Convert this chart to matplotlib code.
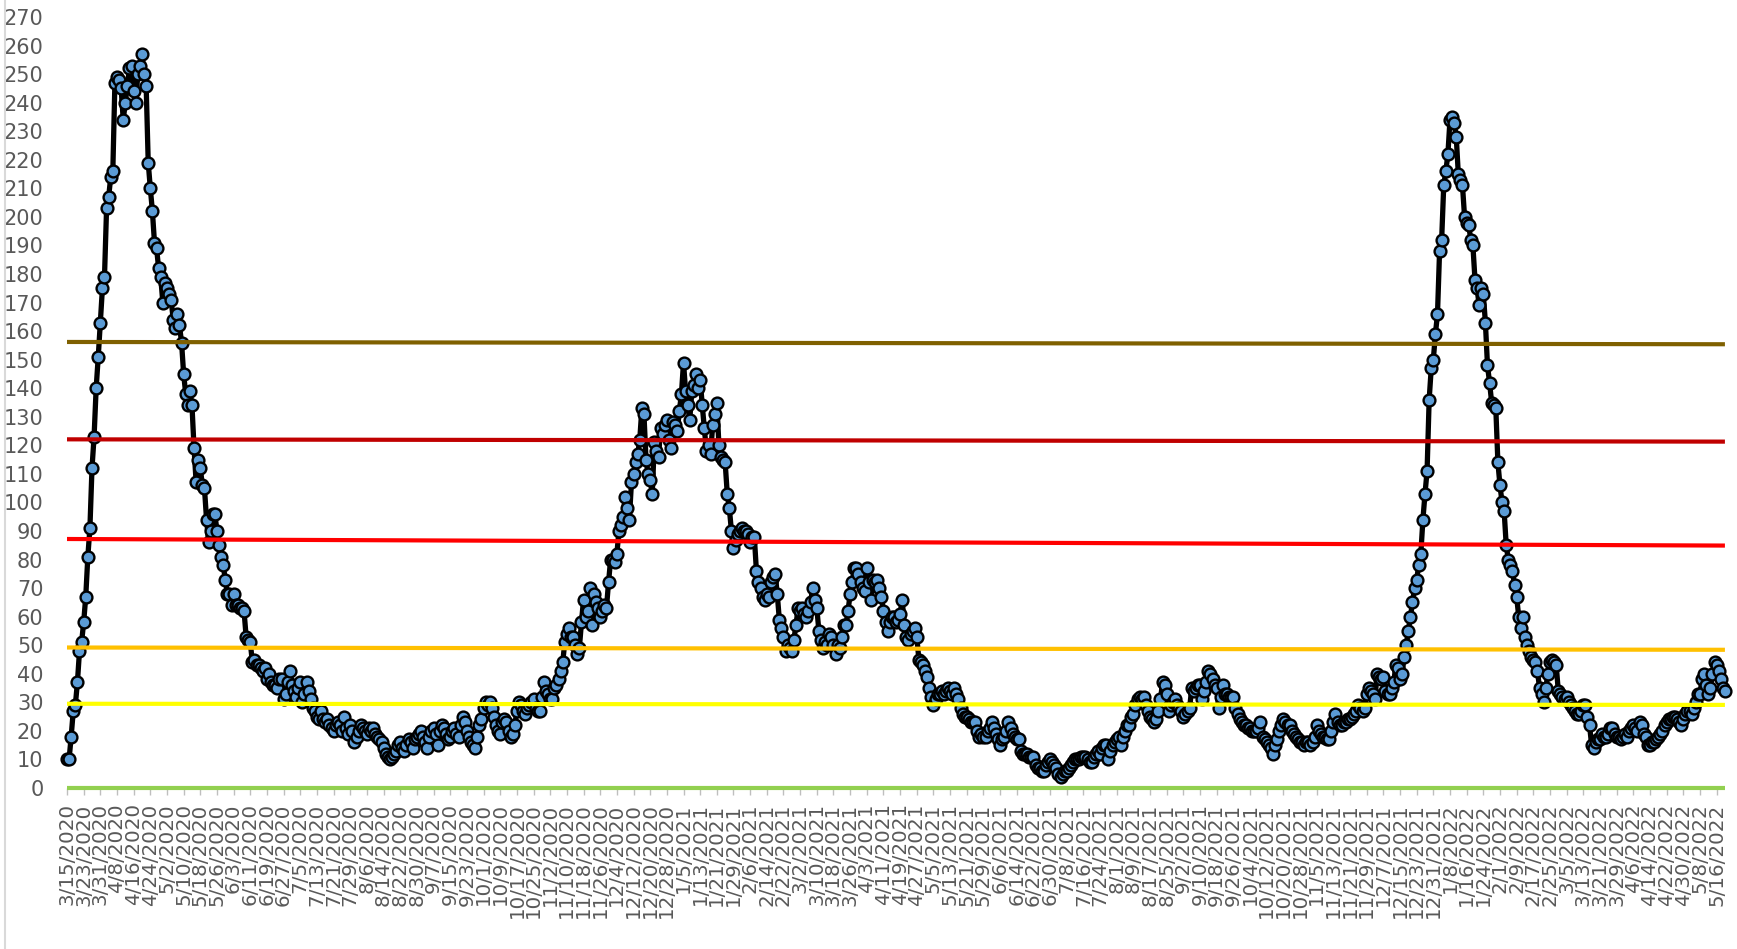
import matplotlib
matplotlib.use("Agg")
import matplotlib.pyplot as plt
import numpy as np
import pandas as pd
from matplotlib.lines import Line2D

# Valores diarios, desde 3/15/2020 (un valor por dia)
ola1_subida = [10, 10, 18, 27, 29, 37, 48, 51, 58, 67, 81, 91, 112, 123, 140,
               151, 163, 175, 179, 203, 207, 214, 216]
ola1_pico = [247, 249, 248, 245, 234, 240, 246, 252, 253, 244, 240, 250, 253,
             257, 250, 246]
ola1_bajada = [219, 210, 202, 191, 189, 182, 179, 170, 177, 175,
               173, 171, 164, 161, 166, 162, 156, 145, 138, 134,
               139, 134, 119, 107, 115, 112, 106, 105, 94, 86,
               90, 96, 96, 90, 85, 81, 78, 73, 68, 68,
               64, 68, 64, 64, 63, 63, 62, 53, 52, 51,
               44, 45, 43, 43, 42, 41, 42, 38]
verano2020 = [40, 37, 36, 36, 35, 38, 38, 31, 33, 37,
              41, 36, 34, 32, 35, 37, 30, 33, 37, 34,
              31, 28, 27, 25, 24, 27, 24, 23, 24, 22,
              21, 20, 22, 23]
otono2020 = [22, 20, 25, 21, 19, 22, 20,
             16, 18, 20, 22, 21, 20, 19, 21,
             20, 21, 19, 18, 17,
             16, 14, 12, 11, 10, 11, 12, 13, 15, 16,
             14, 13, 15, 17, 16, 14, 17, 18, 19, 20,
             18, 16, 14, 18, 20, 21, 19, 15, 20, 22,
             21, 19, 17, 18, 20, 21, 19, 18, 22, 25,
             23, 20, 18, 16, 15, 14, 18, 22, 24, 28,
             30, 29, 30, 28, 25, 22, 20, 19, 23, 24,
             23, 20, 18, 19, 22, 27, 30, 29, 27, 26,
             28, 29, 30, 31, 28, 27]
ola2 = [27, 32, 37, 34, 33, 31, 31, 35, 36, 38,
        41, 44, 51, 54, 56, 53, 53, 50, 47, 49,
        58, 66, 60, 62, 70, 57, 68, 65, 63, 60,
        62, 64, 63, 72, 80, 80, 79, 82, 90, 92,
        95, 102, 98, 94, 107, 110, 114, 117, 122, 133,
        131, 115, 110, 108, 103, 121, 118, 116, 126, 124,
        127, 129, 122, 119, 128, 127, 125, 132, 138, 149,
        139, 134, 129, 139, 141, 145, 140, 143, 134, 126,
        118, 120, 117, 127, 131, 135, 120, 116, 115, 114,
        103, 98, 90, 84, 87, 89, 90, 91, 90, 90,
        89, 86, 88, 88, 76, 72, 70, 67, 66, 68,
        67, 72, 74, 75, 68, 59, 56, 53, 48, 50,
        49, 48, 52, 57, 63, 62, 63, 61, 60, 62,
        65, 70, 66, 63, 55, 52, 49, 51, 50, 54,
        53, 50, 47, 50]
primavera2021 = [49, 53, 57, 57, 62, 68, 72, 77, 77, 75,
                 72, 70, 69, 77, 72, 66, 73, 72, 73, 70,
                 67, 62, 58, 55, 58, 60, 60, 58, 59, 61,
                 66, 57, 53, 52, 54, 55, 56, 53, 45, 44,
                 43, 41, 39, 35, 32, 29, 31, 33, 33, 34,
                 33, 34, 35, 34, 33, 35, 33, 31, 28, 26,
                 25, 25, 24, 23, 23, 23, 20, 18, 19, 18,
                 18, 20, 21, 23, 21, 19, 17, 15, 17, 18,
                 20, 23, 21, 19, 18, 17, 17, 13, 12, 12,
                 12, 11, 11, 11, 8, 7, 7, 6, 6, 8,
                 9, 10, 9, 8, 7, 5, 4, 5, 6, 6,
                 7, 8, 9, 10, 10, 10, 11, 11, 11, 10,
                 9, 9, 11, 12, 13, 12, 14, 15, 15, 10,
                 13, 15, 16, 17, 18]
otono2021 = [15, 18, 20, 22, 22, 25, 26, 29, 31, 32,
             31, 32, 29, 27, 25, 24, 23, 24, 27, 31,
             37, 36, 33, 27, 29, 30, 31, 29, 28, 27,
             25, 26, 27, 28, 35, 34, 35, 36, 36, 31,
             34, 37, 41, 40, 38, 36, 35, 28, 32, 36,
             33, 33, 32, 32, 32, 28, 26, 24, 23, 22,
             22, 21, 21, 20, 20, 20, 21, 23, 18, 17,
             16, 15, 14, 12, 15, 17, 20, 22, 24, 23,
             22, 22, 20, 19, 18, 17, 16, 16, 15, 16,
             16, 15, 16, 18, 22, 20, 19, 18, 18, 17,
             17, 20, 23, 26, 23, 22, 22, 23, 23, 24,
             24, 25, 26, 27, 29, 28, 27, 28, 33, 35,
             34, 33, 31, 40, 39, 38, 39, 34, 33]
ola_omicron = [33, 35, 37, 43, 42, 38, 40, 46, 50, 55,
               60, 65, 70, 73, 78, 82, 94, 103, 111, 136,
               147, 150, 159, 166, 188, 192, 211, 216, 222, 234,
               235, 233, 228, 215, 213, 211, 200, 198, 197, 192,
               190, 178, 175, 169, 175, 173, 163, 148, 142, 135,
               134, 133, 114, 106, 100, 97, 85, 80, 78, 76,
               71, 67, 60, 56, 60, 53, 50, 48, 46, 45,
               44, 41, 35, 33, 30, 35, 40, 44, 45, 44,
               43, 34, 33, 32, 31, 32, 30, 29, 28, 27,
               26, 26, 27, 29, 29, 25, 22, 15, 14, 16,
               17, 17, 19, 18, 18, 19, 21, 21, 19, 18,
               18, 17, 18, 19, 18, 20, 21, 22, 21, 20,
               23, 22, 19, 18, 15, 15, 16, 16, 17, 18,
               19, 20, 22, 23, 24, 24, 25, 25, 24, 23,
               22, 24, 26, 27, 27, 26, 28, 30, 33, 33,
               38, 40, 36, 33, 35, 40, 44, 43, 41, 38,
               35, 34]

valores = (ola1_subida + ola1_pico + ola1_bajada + verano2020 + otono2020 +
           ola2 + primavera2021 + otono2021 + ola_omicron)
fechas = pd.date_range("2020-03-15", periods=len(valores), freq="D")

# Lineas de umbral (valor al inicio y al final del periodo)
umbral_ini = [156.2, 122.1, 87.2, 49.2, 29.5, 0]
umbral_fin = [155.4, 121.3, 84.9, 48.4, 29.1, 0]
umbral_col = ["#7F6000", "#C00000", "#FF0000", "#FFC000", "#FFFF00", "#92D050"]

plt.rcParams['font.family'] = 'DejaVu Sans'
W, H = 1737, 949
fig = plt.figure(figsize=(W / 100, H / 100), dpi=100)
ax = fig.add_axes([67 / W, 161 / H, 1660 / W, 771 / H])

x = np.arange(len(valores))
ax.plot(x, valores, '-o', color='black', lw=3.8, ms=8.5, mfc='#5B9BD5',
        mec='black', mew=1.7, clip_on=False, zorder=3)
for a, b, c in zip(umbral_ini, umbral_fin, umbral_col):
    ax.plot([x[0], x[-1]], [a, b], color=c, lw=3, zorder=4, clip_on=False,
            solid_capstyle='butt')

ax.set_xlim(0, len(valores))
ax.set_ylim(0, 270)
ax.set_yticks(range(0, 271, 10))
ax.set_xticks(x[::8])
ax.set_xticklabels([f"{d.month}/{d.day}/{d.year}" for d in fechas[::8]],
                   rotation=90)
for s in ax.spines.values():
    s.set_visible(False)
ax.tick_params(axis='y', length=0, pad=17, labelsize=15, labelcolor='#595959')
ax.tick_params(axis='x', length=5, width=1, color='#BFBFBF', pad=6,
               labelsize=14.3, labelcolor='#595959')

# borde izquierdo del area del grafico
fig.add_artist(Line2D([5 / W, 5 / W], [0, 1], color='#D9D9D9', lw=1.5))

fig.savefig('out.png', dpi=100)
